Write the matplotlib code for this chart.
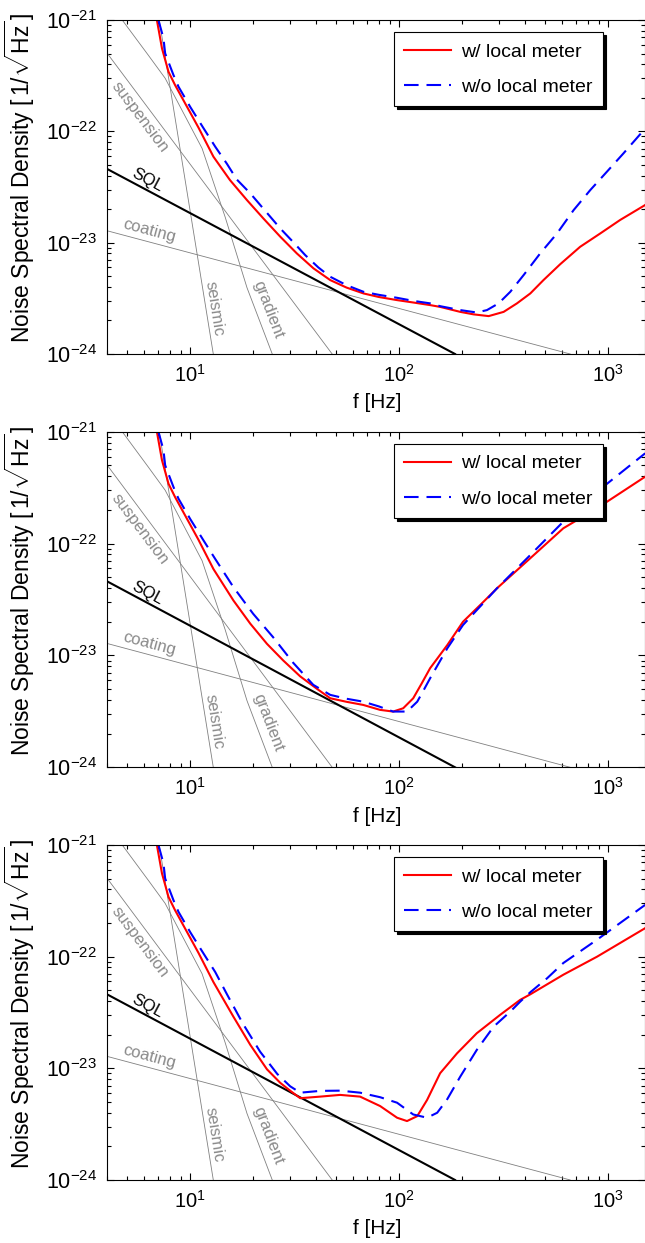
import numpy as np
import matplotlib.pyplot as plt

plt.rcParams['font.family'] = ['Liberation Sans', 'DejaVu Sans']
plt.rcParams['mathtext.fontset'] = 'custom'
plt.rcParams['mathtext.rm'] = 'Liberation Sans'
plt.rcParams['mathtext.it'] = 'Liberation Sans:italic'
plt.rcParams['mathtext.bf'] = 'Liberation Sans:bold'

# --- noise budget lines (identical in all three panels) ---
sql_f = [4.0, 185.0]
sql_s = [4.6e-23, 1.0e-24]
coating_f = [4.0, 658.0]
coating_s = [1.28e-23, 1.0e-24]
suspension_f = [4.0, 47.8]
suspension_s = [5.05e-22, 1.0e-24]
seismic_f = [7.11, 12.9]
seismic_s = [1.0e-21, 1.0e-24]
gradient_f = [4.73, 6.3, 7.59, 11.4, 14.7, 18.7, 24.7]
gradient_s = [1.0e-21, 4.84e-22, 3.0e-22, 7.03e-23, 1.7e-23, 3.94e-24, 1.0e-24]

# --- panel 1 ---
p1_red_f = [6.93, 7.33, 7.88, 8.47, 10.96, 12.92, 15.5, 18.7, 22.4, 27.0, 32.4, 38.9, 46.8,
            56, 67.5, 80, 97.5, 117, 140.6, 157, 196, 227, 268, 316, 366, 424, 490, 589,
            734, 916, 1141, 1503]
p1_red_s = [1e-21, 5.56e-22, 3.42e-22, 2.6e-22, 1.08e-22, 5.92e-23, 3.65e-23, 2.41e-23,
            1.65e-23, 1.13e-23, 8.0e-24, 5.88e-24, 4.61e-24, 3.95e-24, 3.5e-24, 3.25e-24,
            3.05e-24, 2.9e-24, 2.75e-24, 2.65e-24, 2.39e-24, 2.27e-24, 2.19e-24, 2.39e-24,
            2.85e-24, 3.5e-24, 4.61e-24, 6.4e-24, 9.18e-24, 1.21e-23, 1.6e-23, 2.18e-23]
p1_blue_f = [7.05, 7.45, 7.59, 8.32, 8.79, 10.0, 11.5, 13.18, 15.0, 16.7, 19.4, 22.5, 27.0,
             31.0, 35.5, 41.0, 46.8, 56, 67.5, 80, 97.5, 117, 140.6, 157, 196, 235, 263,
             299, 340, 394, 473, 569, 683, 821, 986, 1183, 1503]
p1_blue_s = [1e-21, 6.85e-22, 5.02e-22, 3.2e-22, 2.52e-22, 1.66e-22, 1.09e-22, 7.28e-23,
             5.1e-23, 3.7e-23, 2.77e-23, 2.0e-23, 1.34e-23, 1.02e-23, 7.74e-24, 6.0e-24,
             4.94e-24, 4.15e-24, 3.62e-24, 3.4e-24, 3.2e-24, 3.0e-24, 2.85e-24, 2.69e-24,
             2.48e-24, 2.36e-24, 2.48e-24, 2.85e-24, 3.62e-24, 5.12e-24, 8.02e-24, 1.21e-23,
             1.96e-23, 2.97e-23, 4.34e-23, 6.34e-23, 1.06e-22]

# --- panel 2 ---
p2_red_f = [6.93, 7.33, 7.88, 8.47, 10.96, 12.92, 16.1, 19.4, 23.3, 27.9, 33.6, 40.6, 46.8,
            56, 67.3, 81.1, 93.5, 104.5, 116.7, 128, 140.6, 170, 202, 244, 294, 424, 610,
            885, 1503]
p2_red_s = [1e-21, 5.56e-22, 3.42e-22, 2.6e-22, 1.08e-22, 5.92e-23, 3.1e-23, 1.92e-23,
            1.27e-23, 9.0e-24, 6.5e-24, 5.0e-24, 4.14e-24, 3.85e-24, 3.61e-24, 3.26e-24,
            3.15e-24, 3.37e-24, 4.14e-24, 5.6e-24, 7.69e-24, 1.24e-23, 2.0e-23, 2.82e-23,
            3.99e-23, 7.4e-23, 1.37e-22, 2.07e-22, 3.96e-22]
p2_blue_f = [7.05, 7.45, 7.59, 8.32, 8.79, 10.0, 11.5, 13.18, 16.1, 20.0, 24.9, 31.1, 38.8,
             46.8, 56, 67.3, 80, 93.5, 109, 122, 131, 140.6, 170, 202, 294, 424, 610, 885,
             1503]
p2_blue_s = [1e-21, 6.85e-22, 5.02e-22, 3.2e-22, 2.52e-22, 1.66e-22, 1.09e-22, 7.28e-23,
             4.08e-23, 2.36e-23, 1.46e-23, 8.6e-24, 5.46e-24, 4.44e-24, 4.1e-24, 3.86e-24,
             3.5e-24, 3.15e-24, 3.15e-24, 3.86e-24, 4.9e-24, 6.25e-24, 1.16e-23, 1.87e-23,
             3.99e-23, 7.9e-23, 1.57e-22, 2.91e-22, 6.41e-22]

# --- panel 3 ---
p3_red_f = [6.93, 7.33, 7.88, 8.47, 10.96, 12.92, 16.1, 19.4, 23.3, 27.0, 30.1, 33.6, 41.9,
            52.2, 65.0, 81.1, 97.7, 109, 122, 136, 157, 189, 235, 304, 379, 424, 610, 885,
            1503]
p3_red_s = [1e-21, 5.56e-22, 3.42e-22, 2.6e-22, 1.08e-22, 5.92e-23, 2.9e-23, 1.62e-23,
            9.8e-24, 7.4e-24, 6.3e-24, 5.4e-24, 5.58e-24, 5.78e-24, 5.58e-24, 4.59e-24,
            3.61e-24, 3.37e-24, 3.73e-24, 5.21e-24, 9.04e-24, 1.36e-23, 2.06e-23, 3.01e-23,
            4.1e-23, 4.6e-23, 6.89e-23, 1.0e-22, 1.8e-22]
p3_blue_f = [7.05, 7.45, 7.59, 8.32, 8.79, 10.0, 11.5, 13.18, 15.0, 17.9, 21.6, 26.1, 30.1,
             33.6, 41.9, 52.2, 65.0, 81.1, 97.7, 116.7, 136, 152, 169, 196, 235, 283, 340,
             379, 424, 510, 610, 885, 1503]
p3_blue_s = [1e-21, 6.85e-22, 5.02e-22, 3.2e-22, 2.52e-22, 1.66e-22, 1.09e-22, 7.28e-23,
             4.6e-23, 2.5e-23, 1.41e-23, 8.9e-24, 6.9e-24, 6.05e-24, 6.28e-24, 6.31e-24,
             6.05e-24, 5.51e-24, 4.92e-24, 3.86e-24, 3.61e-24, 4.0e-24, 5.21e-24, 8.43e-24,
             1.46e-23, 2.36e-23, 3.22e-23, 3.95e-23, 4.8e-23, 6.4e-23, 8.77e-23, 1.42e-22,
             2.91e-22]

panels = [
    (p1_red_f, p1_red_s, p1_blue_f, p1_blue_s),
    (p2_red_f, p2_red_s, p2_blue_f, p2_blue_s),
    (p3_red_f, p3_red_s, p3_blue_f, p3_blue_s),
]

# axes rectangles in figure fraction (left, bottom, width, height)
rects = [
    [0.1659, 0.7152, 0.8341, 0.2687],
    [0.1659, 0.3827, 0.8341, 0.2700],
    [0.1659, 0.0507, 0.8341, 0.2695],
]

GRAY = '#808080'
LABEL_GRAY = '#8a8a8a'

fig = plt.figure(figsize=(6.45, 12.43), dpi=100)

for (rf, rs, bf, bs), rect in zip(panels, rects):
    ax = fig.add_axes(rect)
    ax.set_xscale('log')
    ax.set_yscale('log')

    # budget lines
    for f, s in [(coating_f, coating_s), (suspension_f, suspension_s),
                 (seismic_f, seismic_s), (gradient_f, gradient_s)]:
        ax.plot(f, s, color=GRAY, lw=0.6)
    ax.plot(sql_f, sql_s, color='black', lw=1.5)

    ax.plot(rf, rs, color='#ff0000', lw=1.5, label='w/ local meter')
    ax.plot(bf, bs, color='#0000ff', lw=1.5, dashes=(7.0, 3.8), label='w/o local meter')

    # labels on the budget lines
    ax.text(5.77, 1.34e-22, 'suspension', color=LABEL_GRAY, fontsize=12,
            rotation=-53, ha='center', va='center', rotation_mode='anchor')
    ax.text(6.22, 3.62e-23, 'SQL', color='black', fontsize=12,
            rotation=-28, ha='center', va='center', rotation_mode='anchor')
    ax.text(6.37, 1.28e-23, 'coating', color=LABEL_GRAY, fontsize=12,
            rotation=-15, ha='center', va='center', rotation_mode='anchor')
    ax.text(13.0, 2.54e-24, 'seismic', color=LABEL_GRAY, fontsize=12,
            rotation=-81, ha='center', va='center', rotation_mode='anchor')
    ax.text(23.6, 2.49e-24, 'gradient', color=LABEL_GRAY, fontsize=12,
            rotation=-69, ha='center', va='center', rotation_mode='anchor')

    ax.set_xlim(4.0, 1500)
    ax.set_ylim(1e-24, 1e-21)
    ax.set_xticks([1e1, 1e2, 1e3])
    ax.set_yticks([1e-24, 1e-23, 1e-22, 1e-21])

    ax.tick_params(which='both', direction='in', top=True, right=True,
                   pad=7, width=0.8)
    ax.tick_params(axis='x', labelsize=14.5)
    ax.tick_params(axis='y', labelsize=15.5)
    ax.tick_params(which='major', length=5)
    ax.tick_params(which='minor', length=3)
    for sp in ax.spines.values():
        sp.set_linewidth(0.8)

    ax.set_xlabel('f [Hz]', fontsize=15)
    ax.xaxis.set_label_coords(0.502, -0.117)
    ax.set_ylabel(r'Noise Spectral Density $[\,1/\sqrt{\mathrm{Hz}}\,]$', fontsize=16.5)
    ax.yaxis.set_label_coords(-0.13, 0.527)

    leg = ax.legend(loc='upper right', bbox_to_anchor=(0.922, 0.963), borderaxespad=0,
                    fontsize=14, fancybox=False, framealpha=1, edgecolor='black',
                    shadow={'color': 'black', 'alpha': 1},
                    handlelength=2.4, handletextpad=0.5, labelspacing=0.9,
                    borderpad=0.55)
    leg.get_frame().set_linewidth(0.8)

fig.savefig('out.png', dpi=100)
